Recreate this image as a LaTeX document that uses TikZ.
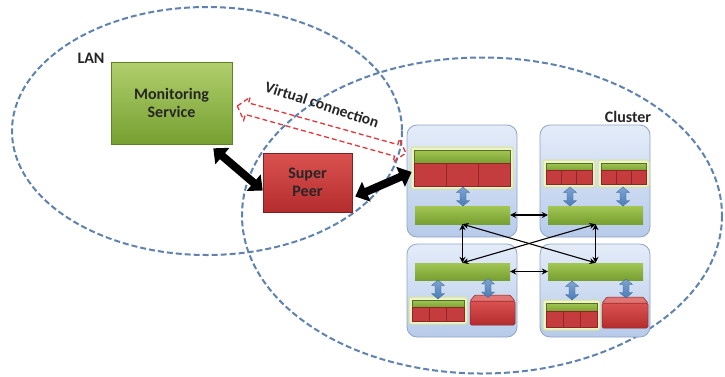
\documentclass[tikz,border=0pt]{standalone}
\usepackage{fontspec}
\setmainfont{Carlito}
\usetikzlibrary{arrows.meta,calc}
\definecolor{ellc}{HTML}{5F82AE}
\definecolor{grtop}{HTML}{A3C653}
\definecolor{grbot}{HTML}{76A031}
\definecolor{rdtop}{HTML}{DA5250}
\definecolor{rdbot}{HTML}{B42C2D}
\definecolor{bltop}{HTML}{E4ECF9}
\definecolor{blbot}{HTML}{B7CBEA}
\definecolor{blbord}{HTML}{8FA6C6}
\definecolor{frfill}{HTML}{EEF3CB}
\definecolor{frbord}{HTML}{D6E39B}
\definecolor{cellc}{HTML}{C43C3E}
\definecolor{celld}{HTML}{8E2626}
\definecolor{barr}{HTML}{4A7DBA}
\definecolor{vred}{HTML}{E0363A}
\definecolor{txt}{HTML}{262626}
\tikzset{
  region/.style={draw=ellc, line width=2pt, dash pattern=on 6pt off 3pt},
  greenbox/.style={draw=grbot!80!black, line width=0.6pt, top color=grtop!85!white, bottom color=grbot, minimum width=121pt, minimum height=82pt, inner sep=0pt},
  redbox/.style={draw=rdbot!70!black, line width=0.6pt, top color=rdtop, bottom color=rdbot, minimum width=89pt, minimum height=59pt, inner sep=0pt},
  hostbox/.style={draw=blbord, line width=0.8pt, rounded corners=10pt, top color=bltop, bottom color=blbot, minimum width=110pt, inner sep=0pt},
  mwbar/.style={top color=grtop, bottom color=grbot, minimum width=95pt, inner sep=0pt},
  bigarrow/.style={line width=8pt, {Triangle[length=12pt,width=21pt]}-{Triangle[length=12pt,width=21pt]}},
  thinarrow/.style={line width=1.1pt, {Stealth[length=6pt,width=6pt]}-{Stealth[length=6pt,width=6pt]}},
  lbl/.style={font=\bfseries\fontsize{16}{18}\selectfont, text=txt},
  bluearr/.pic={\path[top color=barr!70!white, bottom color=barr, draw=barr!80!black, line width=0.3pt]
     (0,-9.5) -- (6.5,-4) -- (3,-4) -- (3,4) -- (6.5,4) -- (0,9.5) -- (-6.5,4) -- (-3,4) -- (-3,-4) -- (-6.5,-4) -- cycle;}
}
\newcommand\myframe[4]{%
  \path[fill=frfill, draw=frbord, line width=1pt, rounded corners=2pt] (#1,#2) rectangle (#3,#4);
  \pgfmathsetmacro\ia{#1+3}\pgfmathsetmacro\ib{#3-3}%
  \pgfmathsetmacro\ja{#2+3}\pgfmathsetmacro\jb{#4-3}%
  \pgfmathsetmacro\jm{#2+3+0.37*(#4-#2-6)}%
  \path[top color=grtop, bottom color=grbot, draw=grbot!70!black, line width=0.4pt] (\ia,\ja) rectangle (\ib,\jm);
  \pgfmathsetmacro\cw{(\ib-\ia)/3}%
  \foreach \k in {0,1,2}{%
    \pgfmathsetmacro\ca{\ia+\k*\cw}\pgfmathsetmacro\cb{\ca+\cw}%
    \path[fill=cellc, draw=celld, line width=0.8pt] (\ca,\jm) rectangle (\cb,\jb);}%
}
\newcommand\mybrick[4]{%
  \path[top color=rdtop, bottom color=rdbot, draw=rdbot!80!black, line width=0.5pt, rounded corners=1.5pt] (#1,#2+6) rectangle (#3,#4);
  \path[fill=rdtop!80!white, draw=rdbot!80!black, line width=0.5pt, rounded corners=1pt] (#1,#2+6) -- (#1+5,#2) -- (#3-5,#2) -- (#3,#2+6) -- cycle;
}
\begin{document}
\begin{tikzpicture}[x=1pt,y=-1pt]
\useasboundingbox[fill=white] (0,0) rectangle (725,376);
% regions
\draw[region] (207,131) ellipse [x radius=195, y radius=124];
\draw[region] (482,215.5) ellipse [x radius=240, y radius=158];
\node[lbl] (lan) at (91,58) {LAN};
\node[lbl] (cl) at (628,117) {Cluster};
% main boxes
\node[greenbox, lbl, align=center] (mon) at (171.5,103) {Monitoring\\Service};
\node[redbox, lbl, align=center] (sp) at (307.5,182.5) {Super\\Peer};
% hosts
\node[hostbox, minimum height=112pt] (h1) at (462,181) {};
\node[hostbox, minimum height=112pt] (h2) at (595,181) {};
\node[hostbox, minimum height=93pt] (h3) at (462,290.5) {};
\node[hostbox, minimum height=93pt] (h4) at (595,290.5) {};
% middleware bars
\node[mwbar, minimum height=18pt] (b1) at (462.5,215) {};
\node[mwbar, minimum height=18pt] (b2) at (595.5,215) {};
\node[mwbar, minimum height=17pt] (b3) at (462.5,271.5) {};
\node[mwbar, minimum height=17pt] (b4) at (595.5,271.5) {};
% frames
\myframe{411}{147}{513}{189}
\myframe{543}{160}{595}{187}
\myframe{598}{160}{649}{187}
\myframe{409}{297}{467}{324}
\myframe{543}{300}{600}{330}
\mybrick{470}{295}{515}{325}
\mybrick{602}{297}{648}{328}
% blue arrows
\pic at (463,196.5) {bluearr};
\pic at (570,196.5) {bluearr};
\pic at (623,196.5) {bluearr};
\pic at (438,289.5) {bluearr};
\pic at (488,288) {bluearr};
\pic at (572,290.5) {bluearr};
\pic at (626,288.5) {bluearr};
% thin arrows
\draw[thinarrow] (b1.east) -- (b2.west);
\draw[thinarrow] (b3.east) -- (b4.west);
\draw[thinarrow] (b1.south) -- (b3.north);
\draw[thinarrow] (b2.south) -- (b4.north);
\draw[thinarrow] (b1.south) -- (b4.north);
\draw[thinarrow] (b2.south) -- (b3.north);
% big arrows
\draw[bigarrow] ([shift={(-19,4)}]mon.south east) -- ([shift={(0,8)}]sp.west);
\draw[bigarrow] ([shift={(3,14)}]sp.east) -- ([shift={(5,-9)}]h1.west);
% virtual connection
\coordinate (va) at ([shift={(5,3)}]mon.east);
\begin{scope}[shift={(va)}, rotate=-15.6]
\draw[vred, line width=1.3pt, dash pattern=on 5pt off 3pt, line join=miter]
  (0,0) -- (10,-12) -- (10,-6) -- (165,-6) -- (165,-12) -- (175,0) -- (165,12) -- (165,6) -- (10,6) -- (10,12) -- cycle;
\end{scope}
\node[lbl, font=\bfseries\fontsize{15.5}{17}\selectfont, rotate=-18, inner sep=1pt] (vc) at (322,104.5) {Virtual connection};
\end{tikzpicture}
\end{document}
